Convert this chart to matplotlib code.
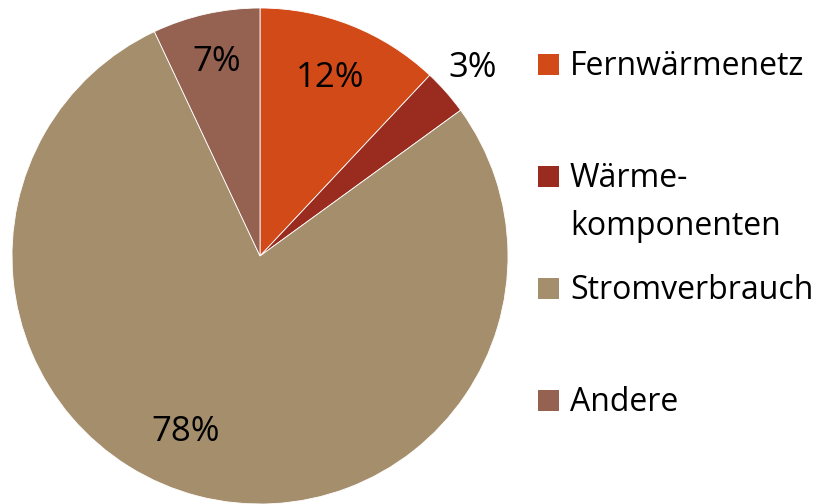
"""Pie chart: Energieverbrauch nach Bereich."""

import matplotlib.pyplot as plt
import numpy as np
from matplotlib.patches import Rectangle

labels = ["Fernwärmenetz", "Wärme-\nkomponenten", "Stromverbrauch", "Andere"]
shares = [12, 3, 78, 7]
pct_text = ["12%", "3%", "78%", "7%"]
colors = ["#D24A18", "#9A2B1F", "#A58E6C", "#956151"]

plt.rcParams["font.family"] = ["Open Sans", "DejaVu Sans"]

fig = plt.figure(figsize=(8.34, 5.04), dpi=100)
W, H = 834, 504
cx, cy, r = 260, 256, 248
ax = fig.add_axes([(cx - r) / W, (H - cy - r) / H, 2 * r / W, 2 * r / H])

wedges, _ = ax.pie(
    shares,
    colors=colors,
    startangle=90,
    counterclock=False,
    wedgeprops=dict(edgecolor="white", linewidth=0.6),
)
ax.set_xlim(-1, 1)
ax.set_ylim(-1, 1)
ax.set_aspect("equal")

# label placement: distance from centre (radius units) and optional angle override
label_dist = [0.77, 1.145, 0.77, 0.80]
label_angle = [None, None, -113, None]
for w, txt, d, ang in zip(wedges, pct_text, label_dist, label_angle):
    a = (w.theta1 + w.theta2) / 2 if ang is None else ang
    x, y = d * np.cos(np.radians(a)), d * np.sin(np.radians(a))
    ax.text(x, y, txt, ha="center", va="center", fontsize=25, color="black")

# legend drawn by hand (marker aligned with first text line)
baselines = [75, 187, 299, 411]
for w, lab, base in zip(wedges, labels, baselines):
    fig.patches.append(
        Rectangle((538 / W, (H - base) / H), 21 / W, 21 / H,
                  transform=fig.transFigure, facecolor=w.get_facecolor(),
                  edgecolor="none")
    )
    for i, line in enumerate(lab.split("\n")):
        fig.text(570 / W, (H - base - 48 * i) / H, line, ha="left",
                 va="baseline", fontsize=23, color="black")

fig.savefig("out.png", dpi=100)
